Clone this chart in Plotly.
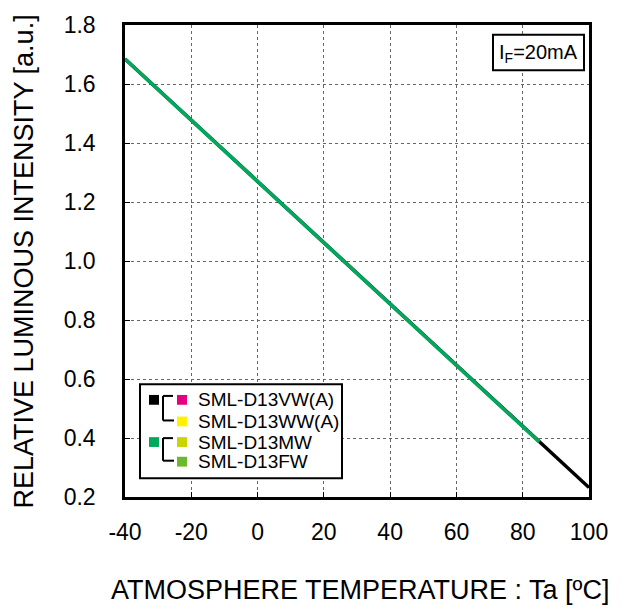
import plotly.graph_objects as go

# Data
ta_black = [-40, 100]
rel_black = [1.685, 0.232]
ta_green = [-40, 85]
rel_green = [1.685, 0.387]

x_ticks = [-40, -20, 0, 20, 40, 60, 80, 100]
y_ticks = [0.2, 0.4, 0.6, 0.8, 1.0, 1.2, 1.4, 1.6, 1.8]

legend_names = ["SML-D13VW(A)", "SML-D13WW(A)", "SML-D13MW", "SML-D13FW"]
legend_colors = ["#E4007F", "#FFF100", "#C9D400", "#6EB92B"]
group_colors = ["#000000", "#00A95C"]

W, H = 621, 613
L, R, T, B = 125, 589, 16, 497
FONT = "Liberation Sans, Arial, sans-serif"


def px(x):
    return (x - L) / (R - L)


def py(y):
    return (B - y) / (B - T)


fig = go.Figure()
fig.add_trace(go.Scatter(x=ta_black, y=rel_black, mode="lines",
                         line=dict(color="#000000", width=3.5), showlegend=False))
fig.add_trace(go.Scatter(x=ta_green, y=rel_green, mode="lines",
                         line=dict(color="#00A95C", width=3.5), showlegend=False))

shapes = []
annotations = []

# legend box
shapes.append(dict(type="rect", xref="paper", yref="paper",
                   x0=px(140), x1=px(342), y0=py(478), y1=py(382),
                   line=dict(color="black", width=2), fillcolor="white", layer="above"))
row_y = [398, 420, 441, 461]
for i, (name, col) in enumerate(zip(legend_names, legend_colors)):
    yc = row_y[i]
    shapes.append(dict(type="rect", xref="paper", yref="paper",
                       x0=px(177), x1=px(187), y0=py(yc + 5), y1=py(yc - 5),
                       line=dict(width=0), fillcolor=col, layer="above"))
    annotations.append(dict(text=name, xref="paper", yref="paper", x=px(196), y=py(yc),
                            xanchor="left", yanchor="middle", showarrow=False,
                            font=dict(family=FONT, size=19, color="black")))
for g, col in enumerate(group_colors):
    yc = row_y[2 * g]
    shapes.append(dict(type="rect", xref="paper", yref="paper",
                       x0=px(149), x1=px(159), y0=py(yc + 5), y1=py(yc - 5),
                       line=dict(width=0), fillcolor=col, layer="above"))
    y_top = row_y[2 * g] - 4
    y_bot = row_y[2 * g + 1] - 1
    for seg in [((173, y_top), (163, y_top)), ((163, y_top), (163, y_bot)), ((163, y_bot), (174, y_bot))]:
        (xa, ya), (xb, yb) = seg
        shapes.append(dict(type="line", xref="paper", yref="paper",
                           x0=px(xa), y0=py(ya), x1=px(xb), y1=py(yb),
                           line=dict(color="black", width=2), layer="above"))

# IF box
shapes.append(dict(type="rect", xref="paper", yref="paper",
                   x0=px(493), x1=px(584), y0=py(62), y1=py(26),
                   line=dict(color="black", width=2), fillcolor="white", layer="above"))
annotations.append(dict(text="I<sub>F</sub>=20mA", xref="paper", yref="paper",
                        x=px(538), y=py(45), xanchor="center", yanchor="middle",
                        showarrow=False, font=dict(family=FONT, size=20, color="black")))

# axis titles
annotations.append(dict(text="ATMOSPHERE TEMPERATURE : Ta [ºC]", xref="paper", yref="paper",
                        x=px(360), y=py(592), xanchor="center", yanchor="middle",
                        showarrow=False, font=dict(family=FONT, size=27, color="black")))
annotations.append(dict(text="RELATIVE LUMINOUS INTENSITY [a.u.]", xref="paper", yref="paper",
                        x=px(24), y=py(257), xanchor="center", yanchor="middle", textangle=-90,
                        showarrow=False, font=dict(family=FONT, size=27, color="black")))

axis_common = dict(showline=True, linecolor="black", linewidth=2.5, mirror=True,
                   showgrid=True, gridcolor="#666666", gridwidth=1, griddash="dot",
                   zeroline=False, ticks="inside", ticklen=5, tickcolor="black",
                   tickfont=dict(family=FONT, size=23, color="black"))

fig.update_layout(
    width=W, height=H,
    margin=dict(l=L, r=W - R, t=T, b=H - B),
    paper_bgcolor="white", plot_bgcolor="white",
    xaxis=dict(range=[-40, 100], tickvals=x_ticks, ticktext=[str(v) for v in x_ticks],
               ticklabelstandoff=13, **axis_common),
    yaxis=dict(range=[0.2, 1.8], tickvals=y_ticks, ticktext=[f"{v:.1f}" for v in y_ticks],
               ticklabelstandoff=22, **axis_common),
    shapes=shapes, annotations=annotations,
    showlegend=False,
)

fig.write_html("out.html", config={"displayModeBar": False},
               post_script="document.body.style.margin='0';document.body.style.overflow='hidden';")
